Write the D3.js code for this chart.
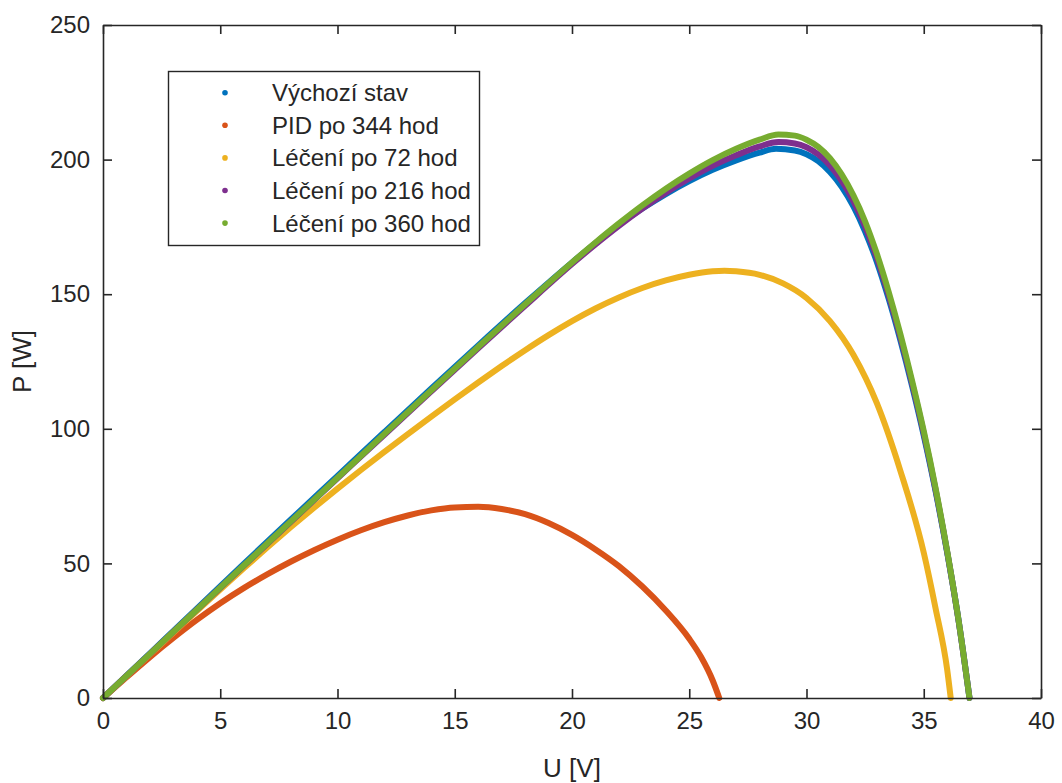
<!DOCTYPE html>
<html>
<head>
<meta charset="utf-8">
<script src="https://cdn.jsdelivr.net/npm/d3@7"></script>
<style>
  html, body { margin: 0; padding: 0; background: #fff; }
  svg { display: block; }
  text { font-family: "Liberation Sans", Arial, Helvetica, sans-serif; fill: #262626; }
</style>
</head>
<body>
<svg id="chart" width="1062" height="783"></svg>
<script>
// P–U characteristics of the panel before degradation, after PID and during recovery
const seriesNames = ["Výchozí stav", "PID po 344 hod", "Léčení po 72 hod", "Léčení po 216 hod", "Léčení po 360 hod"];
const seriesColors = ["#0072BD", "#D95319", "#EDB120", "#7E2F8E", "#77AC30"];

const xTicks = [0, 5, 10, 15, 20, 25, 30, 35, 40];
const yTicks = [0, 50, 100, 150, 200, 250];

// Výchozí stav
const uInitial = [0, 2, 4, 6, 8, 10, 12, 14, 16, 18, 20, 21, 22, 23, 24, 25, 26, 27, 28, 28.7, 29.5, 30, 30.5, 31, 31.5, 32, 32.5, 33, 33.5, 34, 34.5, 35, 35.5, 36, 36.5, 36.95];
const pInitial = [0, 16.6, 33.2, 49.8, 66.2, 82.5, 98.8, 115.0, 131.0, 146.7, 161.8, 169.0, 175.8, 181.8, 187.2, 192.0, 196.2, 199.7, 202.6, 204.0, 203.4, 202.0, 199.4, 195.4, 189.9, 182.6, 173.3, 162.0, 148.4, 133.0, 116.0, 97.5, 77.0, 54.0, 28.0, 0];

// PID po 344 hod
const uPid = [0, 1, 2, 3, 4, 5, 6, 7, 8, 9, 10, 11, 12, 13, 14, 15, 16, 17, 18, 19, 20, 21, 22, 23, 24, 25, 25.5, 26, 26.28];
const pPid = [0, 7.7, 15.2, 22.3, 29.0, 35.2, 40.8, 45.9, 50.6, 54.9, 58.8, 62.3, 65.3, 67.8, 69.7, 70.8, 71.0, 70.2, 68.3, 65.0, 60.6, 55.2, 49.0, 41.4, 32.5, 22.0, 15.3, 6.5, 0];

// Léčení po 72 hod
const uHeal72 = [0, 1, 2, 3, 4, 5, 6, 7, 8, 9, 10, 11, 12, 13, 14, 15, 16, 17, 18, 19, 20, 21, 22, 23, 24, 25, 26, 26.5, 27, 28, 29, 30, 31, 32, 33, 34, 35, 35.5, 36, 36.15];
const pHeal72 = [0, 8.1, 16.2, 24.3, 32.3, 40.3, 48.2, 55.9, 63.4, 70.7, 77.8, 84.7, 91.4, 98.0, 104.5, 110.9, 117.2, 123.3, 129.2, 134.8, 140.0, 144.7, 148.8, 152.3, 155.1, 157.2, 158.5, 158.7, 158.5, 157.2, 154.0, 148.6, 140.0, 127.5, 109.5, 84.5, 54.0, 33.5, 10.5, 0];

// Léčení po 216 hod
const uHeal216 = [0, 2, 4, 6, 8, 10, 12, 14, 16, 18, 20, 21, 22, 23, 24, 25, 26, 27, 28, 28.8, 29.5, 30, 30.5, 31, 31.5, 32, 32.5, 33, 33.5, 34, 34.5, 35, 35.5, 36, 36.5, 36.95];
const pHeal216 = [0, 16.4, 32.8, 49.1, 65.4, 81.6, 97.8, 113.9, 129.9, 145.7, 161.2, 168.5, 175.4, 181.8, 187.7, 193.0, 197.7, 201.6, 204.9, 206.5, 206.0, 204.6, 201.9, 197.8, 192.1, 184.6, 175.1, 163.5, 149.7, 134.2, 117.0, 98.4, 77.6, 54.2, 27.8, 0];

// Léčení po 360 hod
const uHeal360 = [0, 2, 4, 6, 8, 10, 12, 14, 16, 18, 20, 21, 22, 23, 24, 25, 26, 27, 28, 28.8, 29.5, 30, 30.5, 31, 31.5, 32, 32.5, 33, 33.5, 34, 34.5, 35, 35.5, 36, 36.5, 36.95];
const pHeal360 = [0, 16.4, 32.8, 49.2, 65.5, 81.8, 98.1, 114.3, 130.4, 146.3, 161.8, 169.2, 176.3, 183.0, 189.2, 194.8, 199.8, 204.0, 207.4, 209.3, 208.9, 207.4, 204.7, 200.5, 194.5, 186.7, 177.0, 165.0, 151.0, 135.3, 118.0, 99.2, 78.2, 54.5, 28.0, 0];

const seriesU = [uInitial, uPid, uHeal72, uHeal216, uHeal360];
const seriesP = [pInitial, pPid, pHeal72, pHeal216, pHeal360];

const svg = d3.select("#chart");
const plotLeft = 103, plotRight = 1041, plotTop = 25, plotBottom = 698;
const x = d3.scaleLinear().domain([0, 40]).range([plotLeft, plotRight]);
const y = d3.scaleLinear().domain([0, 250]).range([plotBottom, plotTop]);
const axisColor = "#262626";
const tickLen = 9;

// curves, drawn in series order so the last one sits on top
const line = d3.line().x(d => x(d[0])).y(d => y(d[1])).curve(d3.curveMonotoneX);
const curves = svg.append("g");
seriesNames.forEach((name, i) => {
  const pts = seriesU[i].map((u, k) => [u, seriesP[i][k]]);
  curves.append("path").datum(pts)
    .attr("d", line)
    .attr("fill", "none")
    .attr("stroke", seriesColors[i])
    .attr("stroke-width", 6)
    .attr("stroke-linecap", "round")
    .attr("stroke-linejoin", "round");
});

// axes with inward ticks, box style
function styleAxis(g) {
  g.select(".domain").attr("stroke", axisColor).attr("stroke-width", 1.6);
  g.selectAll(".tick line").attr("stroke", axisColor).attr("stroke-width", 1.6);
  g.selectAll(".tick text").attr("fill", axisColor).style("font-size", "24px")
    .style("font-family", '"Liberation Sans", Arial, sans-serif');
}

svg.append("g").attr("transform", `translate(0,${plotBottom})`)
  .call(d3.axisBottom(x).tickValues(xTicks).tickSizeInner(-tickLen).tickSizeOuter(0).tickPadding(14))
  .call(styleAxis);
svg.append("g").attr("transform", `translate(0,${plotTop})`)
  .call(d3.axisTop(x).tickValues(xTicks).tickSizeInner(-tickLen).tickSizeOuter(0).tickFormat(""))
  .call(styleAxis);
svg.append("g").attr("transform", `translate(${plotLeft},0)`)
  .call(d3.axisLeft(y).tickValues(yTicks).tickSizeInner(-tickLen).tickSizeOuter(0).tickPadding(13))
  .call(styleAxis);
svg.append("g").attr("transform", `translate(${plotRight},0)`)
  .call(d3.axisRight(y).tickValues(yTicks).tickSizeInner(-tickLen).tickSizeOuter(0).tickFormat(""))
  .call(styleAxis);

// axis titles
svg.append("text").attr("x", (plotLeft + plotRight) / 2).attr("y", 777)
  .attr("text-anchor", "middle").style("font-size", "26px").text("U [V]");
svg.append("text").attr("transform", `translate(31,${(plotTop + plotBottom) / 2}) rotate(-90)`)
  .attr("text-anchor", "middle").style("font-size", "26px").text("P [W]");

// legend
const legend = svg.append("g");
legend.append("rect").attr("x", 168.5).attr("y", 71.5).attr("width", 311).attr("height", 174)
  .attr("fill", "#fff").attr("stroke", axisColor).attr("stroke-width", 1.4);
seriesNames.forEach((name, i) => {
  const cy = 92.7 + i * 32.6;
  legend.append("circle").attr("cx", 225).attr("cy", cy).attr("r", 2.8).attr("fill", seriesColors[i]);
  legend.append("text").attr("x", 272).attr("y", cy + 8.5).style("font-size", "24px").text(name);
});
</script>
</body>
</html>
